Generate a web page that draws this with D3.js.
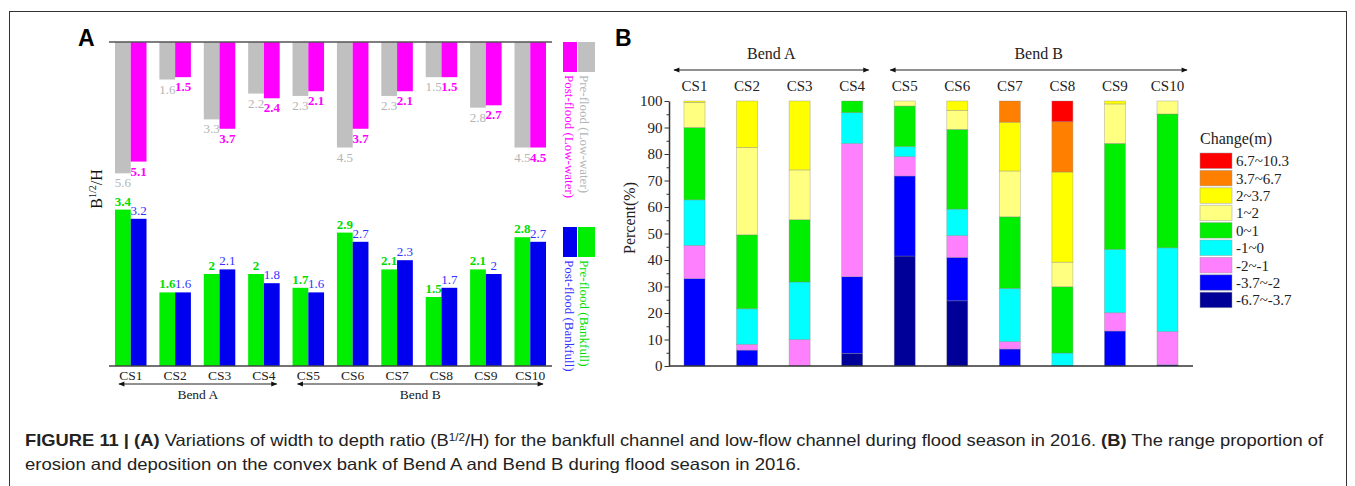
<!DOCTYPE html>
<html>
<head>
<meta charset="utf-8">
<script src="https://cdn.jsdelivr.net/npm/d3@7"></script>
<style>
  body { margin: 0; background: #fff; }
  svg { display: block; }
</style>
</head>
<body>
<div id="fig"></div>
<script>
// panel A data
const sections = ["CS1", "CS2", "CS3", "CS4", "CS5", "CS6", "CS7", "CS8", "CS9", "CS10"];
const lowPre = [5.6, 1.6, 3.3, 2.2, 2.3, 4.5, 2.3, 1.5, 2.8, 4.5];
const lowPost = [5.1, 1.5, 3.7, 2.4, 2.1, 3.7, 2.1, 1.5, 2.7, 4.5];
const bankPre = [3.4, 1.6, 2, 2, 1.7, 2.9, 2.1, 1.5, 2.1, 2.8];
const bankPost = [3.2, 1.6, 2.1, 1.8, 1.6, 2.7, 2.3, 1.7, 2, 2.7];

// panel B data, percent per change class (bottom to top)
const changeClasses = ["-6.7~-3.7", "-3.7~-2", "-2~-1", "-1~0", "0~1", "1~2", "2~3.7", "3.7~6.7", "6.7~10.3"];
const changeColors = ["#000099", "#0000ff", "#ff80ff", "#00ffff", "#00ee00", "#ffff80", "#ffff00", "#ff8000", "#ff0000"];
const pct = {
  CS1:  [0, 33, 12.5, 17.2, 27.3, 9.5, 0.5, 0, 0],
  CS2:  [0, 6, 2.2, 13.4, 27.9, 33, 17.5, 0, 0],
  CS3:  [0, 0, 10, 21.7, 23.5, 18.8, 26, 0, 0],
  CS4:  [4.8, 28.9, 50.3, 11.6, 4.4, 0, 0, 0, 0],
  CS5:  [41.5, 30.2, 7.3, 3.8, 15.3, 1.9, 0, 0, 0],
  CS6:  [24.6, 16.4, 8.2, 10, 30.1, 7.2, 3.5, 0, 0],
  CS7:  [0, 6.4, 2.8, 20.1, 27, 17.3, 18.4, 8, 0],
  CS8:  [0, 0, 0, 4.9, 25, 9.3, 34, 19, 7.8],
  CS9:  [0, 13.2, 6.9, 23.9, 40, 14.9, 1.1, 0, 0],
  CS10: [0, 0.5, 12.5, 31.6, 50.5, 4.9, 0, 0, 0]
};
const bendA = ["CS1", "CS4"];
const bendB = ["CS5", "CS10"];

const serif = "'Liberation Serif', 'Times New Roman', serif";
const W = 1355, H = 486;

const svg = d3.select("#fig").append("svg")
  .attr("width", W).attr("height", H)
  .style("font-family", serif);

svg.append("defs").append("marker")
  .attr("id", "arrow")
  .attr("viewBox", "0 0 10 10")
  .attr("refX", 9).attr("refY", 5)
  .attr("markerWidth", 9).attr("markerHeight", 6)
  .attr("markerUnits", "userSpaceOnUse")
  .attr("orient", "auto-start-reverse")
  .append("path").attr("d", "M0,1L10,5L0,9Z").attr("fill", "#111");

// frame
svg.append("rect")
  .attr("x", 9.5).attr("y", 11.5).attr("width", 1337).attr("height", 490)
  .attr("fill", "none").attr("stroke", "#333").attr("stroke-width", 1);

function arrowLine(g, x1, x2, y) {
  g.append("line")
    .attr("x1", x1).attr("x2", x2).attr("y1", y).attr("y2", y)
    .attr("stroke", "#222").attr("stroke-width", 1)
    .attr("marker-start", "url(#arrow)").attr("marker-end", "url(#arrow)");
}

// ---------- Panel A ----------
const a = svg.append("g");
a.append("text").attr("x", 78).attr("y", 46)
  .style("font-family", "'Liberation Sans', Arial, sans-serif")
  .style("font-weight", 700).style("font-size", "23px").text("A");

const xA = d3.scaleBand(sections, [109, 552]).paddingInner(0.29).paddingOuter(0.135);
const xzA = d3.scaleBand([0, 1], [0, xA.bandwidth()]);
const yLow = d3.scaleLinear([0, 6], [42, 42 + 6 * 23.45]);
const yBank = d3.scaleLinear([0, 4], [366, 366 - 4 * 46]);

const I = d3.range(sections.length);

// low-water bars hang from the top line
const lowSeries = [
  {vals: lowPre, k: 0, fill: "#c0c0c0", text: "#b4b4b4", weight: 400},
  {vals: lowPost, k: 1, fill: "#ff00ff", text: "#ff00ff", weight: 700}
];
lowSeries.forEach(s => {
  a.append("g").selectAll("rect").data(I).join("rect")
    .attr("x", i => xA(sections[i]) + xzA(s.k))
    .attr("y", yLow(0))
    .attr("width", xzA.bandwidth())
    .attr("height", i => yLow(s.vals[i]) - yLow(0))
    .attr("fill", s.fill);
  a.append("g").selectAll("text").data(I).join("text")
    .attr("x", i => xA(sections[i]) + xzA(s.k) + xzA.bandwidth() / 2)
    .attr("y", i => yLow(s.vals[i]) + 14)
    .attr("text-anchor", "middle")
    .attr("fill", s.text)
    .style("font-size", "13px").style("font-weight", s.weight)
    .text(i => s.vals[i]);
});
a.append("line")
  .attr("x1", 109).attr("x2", 552).attr("y1", yLow(0)).attr("y2", yLow(0))
  .attr("stroke", "#555").attr("stroke-width", 1.5);

const bankSeries = [
  {vals: bankPre, k: 0, fill: "#00ee00", text: "#00dd00", weight: 700},
  {vals: bankPost, k: 1, fill: "#0000ee", text: "#3333ff", weight: 400}
];
bankSeries.forEach(s => {
  a.append("g").selectAll("rect").data(I).join("rect")
    .attr("x", i => xA(sections[i]) + xzA(s.k))
    .attr("y", i => yBank(s.vals[i]))
    .attr("width", xzA.bandwidth())
    .attr("height", i => yBank(0) - yBank(s.vals[i]))
    .attr("fill", s.fill);
  a.append("g").selectAll("text").data(I).join("text")
    .attr("x", i => xA(sections[i]) + xzA(s.k) + xzA.bandwidth() / 2)
    .attr("y", i => yBank(s.vals[i]) - 4)
    .attr("text-anchor", "middle")
    .attr("fill", s.text)
    .style("font-size", "13px").style("font-weight", s.weight)
    .text(i => s.vals[i]);
});

a.append("g")
  .attr("transform", `translate(0,${yBank(0)})`)
  .call(d3.axisBottom(xA).tickSize(0).tickPadding(4))
  .call(g => g.select(".domain").attr("stroke", "#444").attr("stroke-width", 1.5).attr("d", "M109,0H552"))
  .call(g => g.selectAll("text").attr("fill", "#222").style("font-size", "13.5px").style("font-family", serif));

// bend arrows under panel A
[[bendA, "Bend A", 4, -3], [bendB, "Bend B", 5, -3]].forEach(([b, label, l, r]) => {
  const x1 = xA(b[0]) + l, x2 = xA(b[1]) + xA.bandwidth() + r;
  arrowLine(a, x1, x2, 384);
  a.append("text").attr("x", (x1 + x2) / 2).attr("y", 399)
    .attr("text-anchor", "middle").attr("fill", "#222")
    .style("font-size", "13.5px").text(label);
});

// y label
const yl = a.append("text")
  .attr("transform", "translate(102,189) rotate(-90)")
  .attr("text-anchor", "middle").attr("fill", "#111")
  .style("font-size", "16px");
yl.append("tspan").text("B");
yl.append("tspan").attr("dy", -6).style("font-size", "10px").text("1/2");
yl.append("tspan").attr("dy", 6).text("/H");

// legends for panel A
const legA = [
  {y: 42, items: [["Post-flood (Low-water)", "#ff00ff", "#ff00ff"], ["Pre-flood (Low-water)", "#c0c0c0", "#b4b4b4"]]},
  {y: 227, items: [["Post-flood (Bankfull)", "#0000ee", "#3333ff"], ["Pre-flood (Bankfull)", "#00ee00", "#00dd00"]]}
];
legA.forEach(L => {
  L.items.forEach(([label, fill, tc], j) => {
    const x0 = 563 + j * 15;
    a.append("rect").attr("x", x0).attr("y", L.y)
      .attr("width", j ? 17 : 14).attr("height", 30).attr("fill", fill);
    a.append("text")
      .attr("transform", `translate(${x0 + 7},${L.y + 33}) rotate(90)`)
      .attr("dy", "0.35em").attr("fill", tc)
      .style("font-size", "13px").text(label);
  });
});

// ---------- Panel B ----------
const b = svg.append("g");
b.append("text").attr("x", 615).attr("y", 46)
  .style("font-family", "'Liberation Sans', Arial, sans-serif")
  .style("font-weight", 700).style("font-size", "23px").text("B");

const xB = d3.scaleBand(sections, [669, 1193]).paddingInner(0.6).paddingOuter(0.285);
const yB = d3.scaleLinear([0, 100], [366, 101]);

const rows = sections.map(cs => {
  const r = {cs};
  changeClasses.forEach((c, j) => r[c] = pct[cs][j]);
  return r;
});
const stacked = d3.stack().keys(changeClasses)(rows);

b.append("g").selectAll("g").data(stacked).join("g")
  .attr("fill", (d, j) => changeColors[j])
  .selectAll("rect").data(d => d.filter(p => p[1] - p[0] > 0)).join("rect")
    .attr("x", d => xB(d.data.cs))
    .attr("y", d => yB(d[1]))
    .attr("width", xB.bandwidth())
    .attr("height", d => yB(d[0]) - yB(d[1]))
    .attr("stroke", "#888").attr("stroke-opacity", 0.5).attr("stroke-width", 0.7);

// y axis with minor ticks
b.append("g")
  .attr("transform", "translate(669,0)")
  .call(d3.axisLeft(yB).tickValues(d3.range(5, 100, 10)).tickSize(2.5).tickFormat(""))
  .call(g => g.select(".domain").remove())
  .call(g => g.selectAll("line").attr("stroke", "#333"));
b.append("g")
  .attr("transform", "translate(669,0)")
  .call(d3.axisLeft(yB).tickValues(d3.range(0, 101, 10)).tickSize(4.5).tickSizeOuter(0).tickPadding(2))
  .call(g => g.select(".domain").attr("stroke", "#333").attr("stroke-width", 1.5))
  .call(g => g.selectAll("line").attr("stroke", "#333"))
  .call(g => g.selectAll("text").attr("fill", "#222").style("font-size", "15px").style("font-family", serif));

b.append("line")
  .attr("x1", 669).attr("x2", 1193).attr("y1", yB(0)).attr("y2", yB(0))
  .attr("stroke", "#333").attr("stroke-width", 1.5);

b.append("text")
  .attr("transform", "translate(635,218) rotate(-90)")
  .attr("text-anchor", "middle").attr("fill", "#222")
  .style("font-size", "16px").text("Percent(%)");

// section labels on top
b.append("g").selectAll("text").data(sections).join("text")
  .attr("x", d => xB(d) + xB.bandwidth() / 2)
  .attr("y", 91)
  .attr("text-anchor", "middle").attr("fill", "#222")
  .style("font-size", "15px").text(d => d);

[[bendA, "Bend A", -10, 6], [bendB, "Bend B", -4, 9]].forEach(([bb, label, l, r]) => {
  const x1 = xB(bb[0]) + l, x2 = xB(bb[1]) + xB.bandwidth() + r;
  arrowLine(b, x1, x2, 70);
  b.append("text").attr("x", (x1 + x2) / 2).attr("y", 59)
    .attr("text-anchor", "middle").attr("fill", "#222")
    .style("font-size", "16px").text(label);
});

// legend
const leg = b.append("g").attr("transform", "translate(1200,0)");
leg.append("text").attr("x", 0).attr("y", 144).attr("fill", "#222")
  .style("font-size", "16px").text("Change(m)");
const legRows = changeClasses.map((c, j) => ({c, color: changeColors[j]})).reverse();
leg.selectAll("rect").data(legRows).join("rect")
  .attr("x", 0).attr("y", (d, i) => 153 + i * 17.4)
  .attr("width", 32).attr("height", 15.5)
  .attr("fill", d => d.color)
  .attr("stroke", "#999").attr("stroke-opacity", 0.6).attr("stroke-width", 0.8);
leg.selectAll("text.lab").data(legRows).join("text")
  .attr("class", "lab")
  .attr("x", 36).attr("y", (d, i) => 153 + i * 17.4 + 8)
  .attr("dy", "0.35em").attr("fill", "#222")
  .style("font-size", "15px").text(d => d.c);

// ---------- caption ----------
const capFont = "'Liberation Sans Narrow', 'Arial Narrow', 'Liberation Sans', sans-serif";
const cap = svg.append("g").style("font-family", capFont).style("font-size", "16.5px").attr("fill", "#222");
const l1 = cap.append("text").attr("x", 25).attr("y", 446)
  .attr("textLength", 1298).attr("lengthAdjust", "spacingAndGlyphs");
l1.append("tspan").style("font-weight", 700).text("FIGURE 11 | (A)");
l1.append("tspan").text(" Variations of width to depth ratio (B");
l1.append("tspan").attr("dy", -5).style("font-size", "10.5px").text("1/2");
l1.append("tspan").attr("dy", 5).text("/H) for the bankfull channel and low-flow channel during flood season in 2016. ");
l1.append("tspan").style("font-weight", 700).text("(B)");
l1.append("tspan").text(" The range proportion of");
cap.append("text").attr("x", 25).attr("y", 470)
  .attr("textLength", 776).attr("lengthAdjust", "spacingAndGlyphs")
  .text("erosion and deposition on the convex bank of Bend A and Bend B during flood season in 2016.");
</script>
</body>
</html>
